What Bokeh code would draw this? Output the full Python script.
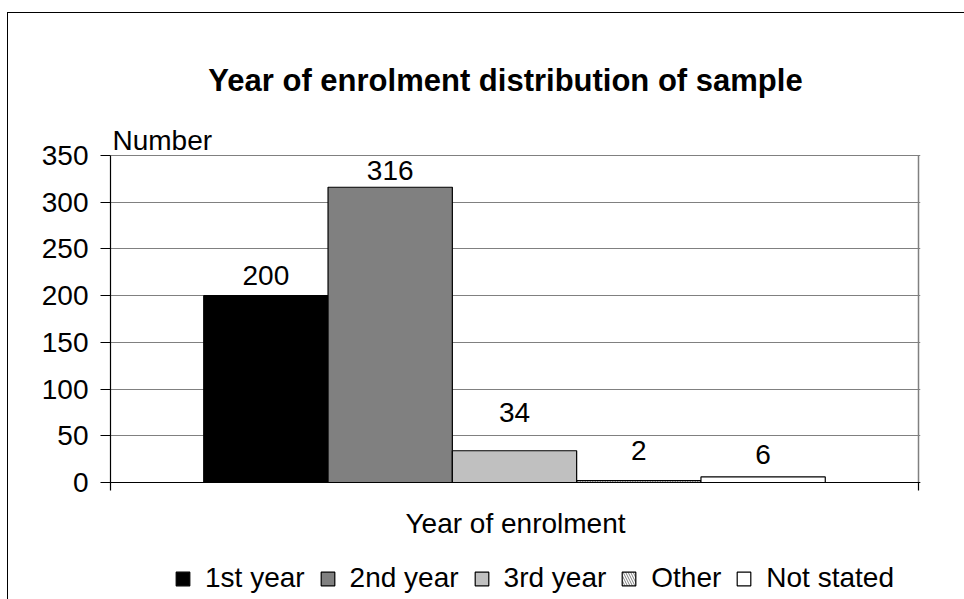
from bokeh.plotting import figure
from bokeh.models import (Range1d, FixedTicker, ColumnDataSource, Label, Legend,
                          LegendItem, Span, InlineStyleSheet)
from bokeh.core.properties import value
from bokeh.embed import file_html
from bokeh.resources import INLINE

# Enrolment-year counts
categories = ["1st year", "2nd year", "3rd year", "Other", "Not stated"]
counts = [200, 316, 34, 2, 6]
y_ticks = [0, 50, 100, 150, 200, 250, 300, 350]
y_max = 350

# Styling per bar
fills = ["#000000", "#808080", "#C0C0C0", "#FFFFFF", "#FFFFFF"]
hatches = [" ", " ", " ", "\\", " "]
label_lift_px = [20, 17, 38, 30, 22]

FONT = "Liberation Sans"
W, H = 964, 599

# Page geometry of the value area (px)
AX_L, AX_R, AX_T, AX_B = 110, 918, 155, 482

n = len(categories)
gap = 1.5  # total gap (in bar widths) shared by both ends of the group
x_end = n + gap
centers = [gap / 2 + 0.5 + i for i in range(n)]

# The frame spans the full page height so that the title, legend and axis
# titles can sit inside it; the value axis is pinned to 0..y_max.
upx = y_max / (AX_B - AX_T)           # value units per pixel
xpx = x_end / (AX_R - AX_L)           # category units per pixel
y_lo = -(H - AX_B) * upx
y_hi = y_max + AX_T * upx
x_hi = x_end + 2 * xpx

p = figure(width=W, height=H,
           x_range=Range1d(0, x_hi), y_range=Range1d(y_lo, y_hi),
           x_axis_location=None,
           output_backend="svg", toolbar_location=None,
           min_border_left=AX_L, min_border_right=W - AX_R - 2,
           min_border_top=0, min_border_bottom=0)
p.background_fill_color = "white"
p.border_fill_color = "white"
p.outline_line_color = None

# page frame: left and top edges of the chart area
p.stylesheets = [InlineStyleSheet(css="""
:host::after { content: ''; position: absolute; left: 7px; top: 12px;
  right: 0; bottom: 0; border-left: 1.5px solid black;
  border-top: 1.5px solid black; pointer-events: none; z-index: 50; }
""")]

# value axis
p.yaxis.ticker = FixedTicker(ticks=y_ticks)
p.yaxis.bounds = (-8 * upx, y_max)
p.yaxis.major_tick_out = 10
p.yaxis.major_tick_in = 0
p.yaxis.minor_tick_line_color = None
p.yaxis.axis_line_color = "black"
p.yaxis.axis_line_width = 1.2
p.yaxis.major_tick_line_color = "black"
p.yaxis.major_label_text_font = FONT
p.yaxis.major_label_text_font_size = "28px"
p.yaxis.major_label_text_color = "black"
p.yaxis.major_label_standoff = 12

p.xgrid.grid_line_color = None
p.ygrid.ticker = FixedTicker(ticks=y_ticks)
p.ygrid.grid_line_color = "#808080"
p.ygrid.grid_line_width = 1.2

# category axis line, end ticks and right border of the value area
p.add_layout(Span(location=0, dimension="width", line_color="black", line_width=1.2))
p.segment(x0=[x_end], y0=[0], x1=[x_end], y1=[y_max],
          line_color="#808080", line_width=1.5)
p.segment(x0=[x_end], y0=[0], x1=[x_end], y1=[-8 * upx],
          line_color="black", line_width=1.2)

src = ColumnDataSource(dict(x=centers, top=counts, lift=[-v for v in label_lift_px],
                            txt=[str(c) for c in counts]))

items = []
for i, cat in enumerate(categories):
    r = p.vbar(x=[centers[i]], top=[counts[i]], width=1.0, bottom=0,
               fill_color=fills[i], line_color="black", line_width=1.2,
               hatch_pattern=hatches[i], hatch_color="#808080",
               hatch_scale=5, hatch_weight=1)
    items.append(LegendItem(label=cat, renderers=[r]))

p.text(x="x", y="top", text="txt", source=src, y_offset="lift",
       text_align="center", text_baseline="middle",
       text_font=value(FONT), text_font_size="28px", text_color="black")

legend = Legend(items=items, orientation="horizontal", location=(64, 5),
                glyph_width=17, glyph_height=17, label_standoff=14,
                spacing=14, padding=0, margin=0,
                label_text_font=FONT, label_text_font_size="28px",
                label_text_color="black", label_height=30,
                border_line_color=None, background_fill_alpha=0)
p.add_layout(legend, "center")

# texts placed relative to the frame's bottom-left corner (page bottom)
title = Label(x=505 - AX_L, y=H - 80, x_units="screen", y_units="screen",
              text="Year of enrolment distribution of sample",
              text_font=FONT, text_font_size="31px", text_font_style="bold",
              text_align="center", text_baseline="middle", text_color="black")
p.add_layout(title)

ylab = Label(x=112 - AX_L, y=H - 140, x_units="screen", y_units="screen",
             text="Number", text_font=FONT, text_font_size="28px",
             text_align="left", text_baseline="middle", text_color="black")
p.add_layout(ylab)

xlab = Label(x=515 - AX_L, y=H - 523, x_units="screen", y_units="screen",
             text="Year of enrolment", text_font=FONT, text_font_size="28px",
             text_align="center", text_baseline="middle", text_color="black")
p.add_layout(xlab)

open("out.html", "w").write(file_html(p, INLINE))
